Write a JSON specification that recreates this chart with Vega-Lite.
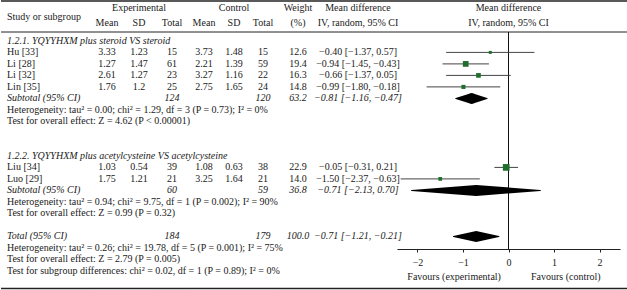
{
"$schema":"https://vega.github.io/schema/vega-lite/v6.json",
"padding":0,"spacing":0,"bounds":"flush","background":"white",
"config":{"view":{"stroke":null},"text":{"font":"Liberation Serif","fontSize":10,"color":"#1a1a1a"},"concat":{"spacing":0}},
"datasets":{
"one":[{}],
"headers":[
{"col":"study","r":-2.12,"text":"Study or subgroup"},
{"col":"esd","r":-2.86,"text":"Experimental"},
{"col":"em","r":-1.56,"text":"Mean"},{"col":"esd","r":-1.56,"text":"SD"},{"col":"et","r":-1.56,"text":"Total"},
{"col":"csd","r":-2.86,"text":"Control"},
{"col":"cm","r":-1.56,"text":"Mean"},{"col":"csd","r":-1.56,"text":"SD"},{"col":"ct","r":-1.56,"text":"Total"},
{"col":"w","r":-2.86,"text":"Weight"},{"col":"w","r":-1.56,"text":"(%)"},
{"col":"ci","r":-2.86,"text":"Mean difference"},{"col":"ci","r":-1.56,"text":"IV, random, 95% CI"},
{"col":"forest","r":-2.86,"text":"Mean difference"},{"col":"forest","r":-1.56,"text":"IV, random, 95% CI"}
],
"rows":[
{"r":0,"kind":"group","label":"1.2.1. YQYYHXM plus steroid VS steroid"},
{"r":1,"kind":"study","label":"Hu [33]","em":3.33,"esd":1.23,"et":15,"cm":3.73,"csd":1.48,"ct":15,"weight":12.6,"est":-0.40,"lo":-1.37,"hi":0.57,"ci":"−0.40 [−1.37, 0.57]"},
{"r":2,"kind":"study","label":"Li [28]","em":1.27,"esd":1.47,"et":61,"cm":2.21,"csd":1.39,"ct":59,"weight":19.4,"est":-0.94,"lo":-1.45,"hi":-0.43,"ci":"−0.94 [−1.45, −0.43]"},
{"r":3,"kind":"study","label":"Li [32]","em":2.61,"esd":1.27,"et":23,"cm":3.27,"csd":1.16,"ct":22,"weight":16.3,"est":-0.66,"lo":-1.37,"hi":0.05,"ci":"−0.66 [−1.37, 0.05]"},
{"r":4,"kind":"study","label":"Lin [35]","em":1.76,"esd":1.2,"et":25,"cm":2.75,"csd":1.65,"ct":24,"weight":14.8,"est":-0.99,"lo":-1.80,"hi":-0.18,"ci":"−0.99 [−1.80, −0.18]"},
{"r":5,"kind":"subtotal","label":"Subtotal (95% CI)","et":124,"ct":120,"weight":63.2,"est":-0.81,"lo":-1.16,"hi":-0.47,"ci":"−0.81 [−1.16, −0.47]"},
{"r":6,"kind":"note","label":"Heterogeneity: tau² = 0.00; chi² = 1.29, df = 3 (P = 0.73); I² = 0%"},
{"r":7,"kind":"note","label":"Test for overall effect: Z = 4.62 (P < 0.00001)"},
{"r":10,"kind":"group","label":"1.2.2. YQYYHXM plus acetylcysteine VS acetylcysteine"},
{"r":11,"kind":"study","label":"Liu [34]","em":1.03,"esd":0.54,"et":39,"cm":1.08,"csd":0.63,"ct":38,"weight":22.9,"est":-0.05,"lo":-0.31,"hi":0.21,"ci":"−0.05 [−0.31, 0.21]"},
{"r":12,"kind":"study","label":"Luo [29]","em":1.75,"esd":1.21,"et":21,"cm":3.25,"csd":1.64,"ct":21,"weight":14.0,"est":-1.50,"lo":-2.37,"hi":-0.63,"ci":"−1.50 [−2.37, −0.63]"},
{"r":13,"kind":"subtotal","label":"Subtotal (95% CI)","et":60,"ct":59,"weight":36.8,"est":-0.71,"lo":-2.13,"hi":0.70,"ci":"−0.71 [−2.13, 0.70]"},
{"r":14,"kind":"note","label":"Heterogeneity: tau² = 0.94; chi² = 9.75, df = 1 (P = 0.002); I² = 90%"},
{"r":15,"kind":"note","label":"Test for overall effect: Z = 0.99 (P = 0.32)"},
{"r":17,"kind":"total","label":"Total (95% CI)","et":184,"ct":179,"weight":100.0,"est":-0.71,"lo":-1.21,"hi":-0.21,"ci":"−0.71 [−1.21, −0.21]"},
{"r":18,"kind":"note","label":"Heterogeneity: tau² = 0.26; chi² = 19.78, df = 5 (P = 0.001); I² = 75%"},
{"r":19,"kind":"note","label":"Test for overall effect: Z = 2.79 (P = 0.005)"},
{"r":20,"kind":"note","label":"Test for subgroup differences: chi² = 0.02, df = 1 (P = 0.89); I² = 0%"}
]
},
"hconcat":[
{"width":12,"height":290,"layer":[
{"data":{"name":"one"},"mark":{"type":"rule","color":"#222","strokeWidth":1.5},"encoding":{"y":{"datum":-3.47,"type":"quantitative","scale":{"domain":[-3.557,21.661],"reverse":true,"nice":false,"zero":false},"axis":null}}},
{"data":{"name":"one"},"mark":{"type":"rule","color":"#222","strokeWidth":1},"encoding":{"y":{"datum":-0.774,"type":"quantitative","scale":{"domain":[-3.557,21.661],"reverse":true,"nice":false,"zero":false},"axis":null}}},
{"data":{"name":"one"},"mark":{"type":"rule","color":"#222","strokeWidth":1.5},"encoding":{"y":{"datum":21.53,"type":"quantitative","scale":{"domain":[-3.557,21.661],"reverse":true,"nice":false,"zero":false},"axis":null}}},
{"data":{"name":"headers"},"transform":[{"filter":"datum.col==='study'"}],"mark":{"type":"text","align":"left"},"encoding":{"y":{"field":"r","type":"quantitative","scale":{"domain":[-3.557,21.661],"reverse":true,"nice":false,"zero":false},"axis":null},"text":{"field":"text","type":"nominal"}}},
{"data":{"name":"rows"},"transform":[{"filter":"datum.kind==='study'||datum.kind==='note'"}],"mark":{"type":"text","align":"left"},"encoding":{"y":{"field":"r","type":"quantitative","scale":{"domain":[-3.557,21.661],"reverse":true,"nice":false,"zero":false},"axis":null},"text":{"field":"label","type":"nominal"}}},
{"data":{"name":"rows"},"transform":[{"filter":"datum.kind==='group'||datum.kind==='subtotal'||datum.kind==='total'"}],"mark":{"type":"text","align":"left","fontStyle":"italic"},"encoding":{"y":{"field":"r","type":"quantitative","scale":{"domain":[-3.557,21.661],"reverse":true,"nice":false,"zero":false},"axis":null},"text":{"field":"label","type":"nominal"}}}
]},
{"width":78,"height":290,"layer":[
{"data":{"name":"one"},"mark":{"type":"rule","color":"#222","strokeWidth":1.5},"encoding":{"y":{"datum":-3.47,"type":"quantitative","scale":{"domain":[-3.557,21.661],"reverse":true,"nice":false,"zero":false},"axis":null}}},
{"data":{"name":"one"},"mark":{"type":"rule","color":"#222","strokeWidth":1},"encoding":{"y":{"datum":-0.774,"type":"quantitative","scale":{"domain":[-3.557,21.661],"reverse":true,"nice":false,"zero":false},"axis":null}}},
{"data":{"name":"one"},"mark":{"type":"rule","color":"#222","strokeWidth":1.5},"encoding":{"y":{"datum":21.53,"type":"quantitative","scale":{"domain":[-3.557,21.661],"reverse":true,"nice":false,"zero":false},"axis":null}}}
]},
{"width":32,"height":290,"layer":[
{"data":{"name":"one"},"mark":{"type":"rule","color":"#222","strokeWidth":1.5},"encoding":{"y":{"datum":-3.47,"type":"quantitative","scale":{"domain":[-3.557,21.661],"reverse":true,"nice":false,"zero":false},"axis":null}}},
{"data":{"name":"one"},"mark":{"type":"rule","color":"#222","strokeWidth":1},"encoding":{"y":{"datum":-0.774,"type":"quantitative","scale":{"domain":[-3.557,21.661],"reverse":true,"nice":false,"zero":false},"axis":null}}},
{"data":{"name":"one"},"mark":{"type":"rule","color":"#222","strokeWidth":1.5},"encoding":{"y":{"datum":21.53,"type":"quantitative","scale":{"domain":[-3.557,21.661],"reverse":true,"nice":false,"zero":false},"axis":null}}},
{"data":{"name":"headers"},"transform":[{"filter":"datum.col==='em'"}],"mark":{"type":"text"},"encoding":{"y":{"field":"r","type":"quantitative","scale":{"domain":[-3.557,21.661],"reverse":true,"nice":false,"zero":false},"axis":null},"text":{"field":"text","type":"nominal"}}},
{"data":{"name":"rows"},"transform":[{"filter":"datum.kind==='study'"}],"mark":{"type":"text"},"encoding":{"y":{"field":"r","type":"quantitative","scale":{"domain":[-3.557,21.661],"reverse":true,"nice":false,"zero":false},"axis":null},"text":{"field":"em","type":"nominal"}}}
]},
{"width":32,"height":290,"layer":[
{"data":{"name":"one"},"mark":{"type":"rule","color":"#222","strokeWidth":1.5},"encoding":{"y":{"datum":-3.47,"type":"quantitative","scale":{"domain":[-3.557,21.661],"reverse":true,"nice":false,"zero":false},"axis":null}}},
{"data":{"name":"one"},"mark":{"type":"rule","color":"#222","strokeWidth":1},"encoding":{"y":{"datum":-0.774,"type":"quantitative","scale":{"domain":[-3.557,21.661],"reverse":true,"nice":false,"zero":false},"axis":null}}},
{"data":{"name":"one"},"mark":{"type":"rule","color":"#222","strokeWidth":1.5},"encoding":{"y":{"datum":21.53,"type":"quantitative","scale":{"domain":[-3.557,21.661],"reverse":true,"nice":false,"zero":false},"axis":null}}},
{"data":{"name":"headers"},"transform":[{"filter":"datum.col==='esd'"}],"mark":{"type":"text"},"encoding":{"y":{"field":"r","type":"quantitative","scale":{"domain":[-3.557,21.661],"reverse":true,"nice":false,"zero":false},"axis":null},"text":{"field":"text","type":"nominal"}}},
{"data":{"name":"rows"},"transform":[{"filter":"datum.kind==='study'"}],"mark":{"type":"text"},"encoding":{"y":{"field":"r","type":"quantitative","scale":{"domain":[-3.557,21.661],"reverse":true,"nice":false,"zero":false},"axis":null},"text":{"field":"esd","type":"nominal"}}}
]},
{"width":34,"height":290,"layer":[
{"data":{"name":"one"},"mark":{"type":"rule","color":"#222","strokeWidth":1.5},"encoding":{"y":{"datum":-3.47,"type":"quantitative","scale":{"domain":[-3.557,21.661],"reverse":true,"nice":false,"zero":false},"axis":null}}},
{"data":{"name":"one"},"mark":{"type":"rule","color":"#222","strokeWidth":1},"encoding":{"y":{"datum":-0.774,"type":"quantitative","scale":{"domain":[-3.557,21.661],"reverse":true,"nice":false,"zero":false},"axis":null}}},
{"data":{"name":"one"},"mark":{"type":"rule","color":"#222","strokeWidth":1.5},"encoding":{"y":{"datum":21.53,"type":"quantitative","scale":{"domain":[-3.557,21.661],"reverse":true,"nice":false,"zero":false},"axis":null}}},
{"data":{"name":"headers"},"transform":[{"filter":"datum.col==='et'"}],"mark":{"type":"text"},"encoding":{"y":{"field":"r","type":"quantitative","scale":{"domain":[-3.557,21.661],"reverse":true,"nice":false,"zero":false},"axis":null},"text":{"field":"text","type":"nominal"}}},
{"data":{"name":"rows"},"transform":[{"filter":"datum.kind==='study'"}],"mark":{"type":"text"},"encoding":{"y":{"field":"r","type":"quantitative","scale":{"domain":[-3.557,21.661],"reverse":true,"nice":false,"zero":false},"axis":null},"text":{"field":"et","type":"nominal"}}},
{"data":{"name":"rows"},"transform":[{"filter":"datum.kind==='subtotal'||datum.kind==='total'"}],"mark":{"type":"text","fontStyle":"italic"},"encoding":{"y":{"field":"r","type":"quantitative","scale":{"domain":[-3.557,21.661],"reverse":true,"nice":false,"zero":false},"axis":null},"text":{"field":"et","type":"nominal"}}}
]},
{"width":30,"height":290,"layer":[
{"data":{"name":"one"},"mark":{"type":"rule","color":"#222","strokeWidth":1.5},"encoding":{"y":{"datum":-3.47,"type":"quantitative","scale":{"domain":[-3.557,21.661],"reverse":true,"nice":false,"zero":false},"axis":null}}},
{"data":{"name":"one"},"mark":{"type":"rule","color":"#222","strokeWidth":1},"encoding":{"y":{"datum":-0.774,"type":"quantitative","scale":{"domain":[-3.557,21.661],"reverse":true,"nice":false,"zero":false},"axis":null}}},
{"data":{"name":"one"},"mark":{"type":"rule","color":"#222","strokeWidth":1.5},"encoding":{"y":{"datum":21.53,"type":"quantitative","scale":{"domain":[-3.557,21.661],"reverse":true,"nice":false,"zero":false},"axis":null}}},
{"data":{"name":"headers"},"transform":[{"filter":"datum.col==='cm'"}],"mark":{"type":"text"},"encoding":{"y":{"field":"r","type":"quantitative","scale":{"domain":[-3.557,21.661],"reverse":true,"nice":false,"zero":false},"axis":null},"text":{"field":"text","type":"nominal"}}},
{"data":{"name":"rows"},"transform":[{"filter":"datum.kind==='study'"}],"mark":{"type":"text"},"encoding":{"y":{"field":"r","type":"quantitative","scale":{"domain":[-3.557,21.661],"reverse":true,"nice":false,"zero":false},"axis":null},"text":{"field":"cm","type":"nominal"}}}
]},
{"width":30,"height":290,"layer":[
{"data":{"name":"one"},"mark":{"type":"rule","color":"#222","strokeWidth":1.5},"encoding":{"y":{"datum":-3.47,"type":"quantitative","scale":{"domain":[-3.557,21.661],"reverse":true,"nice":false,"zero":false},"axis":null}}},
{"data":{"name":"one"},"mark":{"type":"rule","color":"#222","strokeWidth":1},"encoding":{"y":{"datum":-0.774,"type":"quantitative","scale":{"domain":[-3.557,21.661],"reverse":true,"nice":false,"zero":false},"axis":null}}},
{"data":{"name":"one"},"mark":{"type":"rule","color":"#222","strokeWidth":1.5},"encoding":{"y":{"datum":21.53,"type":"quantitative","scale":{"domain":[-3.557,21.661],"reverse":true,"nice":false,"zero":false},"axis":null}}},
{"data":{"name":"headers"},"transform":[{"filter":"datum.col==='csd'"}],"mark":{"type":"text"},"encoding":{"y":{"field":"r","type":"quantitative","scale":{"domain":[-3.557,21.661],"reverse":true,"nice":false,"zero":false},"axis":null},"text":{"field":"text","type":"nominal"}}},
{"data":{"name":"rows"},"transform":[{"filter":"datum.kind==='study'"}],"mark":{"type":"text"},"encoding":{"y":{"field":"r","type":"quantitative","scale":{"domain":[-3.557,21.661],"reverse":true,"nice":false,"zero":false},"axis":null},"text":{"field":"csd","type":"nominal"}}}
]},
{"width":28,"height":290,"layer":[
{"data":{"name":"one"},"mark":{"type":"rule","color":"#222","strokeWidth":1.5},"encoding":{"y":{"datum":-3.47,"type":"quantitative","scale":{"domain":[-3.557,21.661],"reverse":true,"nice":false,"zero":false},"axis":null}}},
{"data":{"name":"one"},"mark":{"type":"rule","color":"#222","strokeWidth":1},"encoding":{"y":{"datum":-0.774,"type":"quantitative","scale":{"domain":[-3.557,21.661],"reverse":true,"nice":false,"zero":false},"axis":null}}},
{"data":{"name":"one"},"mark":{"type":"rule","color":"#222","strokeWidth":1.5},"encoding":{"y":{"datum":21.53,"type":"quantitative","scale":{"domain":[-3.557,21.661],"reverse":true,"nice":false,"zero":false},"axis":null}}},
{"data":{"name":"headers"},"transform":[{"filter":"datum.col==='ct'"}],"mark":{"type":"text"},"encoding":{"y":{"field":"r","type":"quantitative","scale":{"domain":[-3.557,21.661],"reverse":true,"nice":false,"zero":false},"axis":null},"text":{"field":"text","type":"nominal"}}},
{"data":{"name":"rows"},"transform":[{"filter":"datum.kind==='study'"}],"mark":{"type":"text"},"encoding":{"y":{"field":"r","type":"quantitative","scale":{"domain":[-3.557,21.661],"reverse":true,"nice":false,"zero":false},"axis":null},"text":{"field":"ct","type":"nominal"}}},
{"data":{"name":"rows"},"transform":[{"filter":"datum.kind==='subtotal'||datum.kind==='total'"}],"mark":{"type":"text","fontStyle":"italic"},"encoding":{"y":{"field":"r","type":"quantitative","scale":{"domain":[-3.557,21.661],"reverse":true,"nice":false,"zero":false},"axis":null},"text":{"field":"ct","type":"nominal"}}}
]},
{"width":42,"height":290,"layer":[
{"data":{"name":"one"},"mark":{"type":"rule","color":"#222","strokeWidth":1.5},"encoding":{"y":{"datum":-3.47,"type":"quantitative","scale":{"domain":[-3.557,21.661],"reverse":true,"nice":false,"zero":false},"axis":null}}},
{"data":{"name":"one"},"mark":{"type":"rule","color":"#222","strokeWidth":1},"encoding":{"y":{"datum":-0.774,"type":"quantitative","scale":{"domain":[-3.557,21.661],"reverse":true,"nice":false,"zero":false},"axis":null}}},
{"data":{"name":"one"},"mark":{"type":"rule","color":"#222","strokeWidth":1.5},"encoding":{"y":{"datum":21.53,"type":"quantitative","scale":{"domain":[-3.557,21.661],"reverse":true,"nice":false,"zero":false},"axis":null}}},
{"data":{"name":"headers"},"transform":[{"filter":"datum.col==='w'"}],"mark":{"type":"text"},"encoding":{"y":{"field":"r","type":"quantitative","scale":{"domain":[-3.557,21.661],"reverse":true,"nice":false,"zero":false},"axis":null},"text":{"field":"text","type":"nominal"}}},
{"data":{"name":"rows"},"transform":[{"filter":"datum.kind==='study'"}],"mark":{"type":"text"},"encoding":{"y":{"field":"r","type":"quantitative","scale":{"domain":[-3.557,21.661],"reverse":true,"nice":false,"zero":false},"axis":null},"text":{"field":"weight","type":"quantitative","format":".1f"}}},
{"data":{"name":"rows"},"transform":[{"filter":"datum.kind==='subtotal'||datum.kind==='total'"}],"mark":{"type":"text","fontStyle":"italic"},"encoding":{"y":{"field":"r","type":"quantitative","scale":{"domain":[-3.557,21.661],"reverse":true,"nice":false,"zero":false},"axis":null},"text":{"field":"weight","type":"quantitative","format":".1f"}}}
]},
{"width":78,"height":290,"layer":[
{"data":{"name":"one"},"mark":{"type":"rule","color":"#222","strokeWidth":1.5},"encoding":{"y":{"datum":-3.47,"type":"quantitative","scale":{"domain":[-3.557,21.661],"reverse":true,"nice":false,"zero":false},"axis":null}}},
{"data":{"name":"one"},"mark":{"type":"rule","color":"#222","strokeWidth":1},"encoding":{"y":{"datum":-0.774,"type":"quantitative","scale":{"domain":[-3.557,21.661],"reverse":true,"nice":false,"zero":false},"axis":null}}},
{"data":{"name":"one"},"mark":{"type":"rule","color":"#222","strokeWidth":1.5},"encoding":{"y":{"datum":21.53,"type":"quantitative","scale":{"domain":[-3.557,21.661],"reverse":true,"nice":false,"zero":false},"axis":null}}},
{"data":{"name":"headers"},"transform":[{"filter":"datum.col==='ci'"}],"mark":{"type":"text"},"encoding":{"y":{"field":"r","type":"quantitative","scale":{"domain":[-3.557,21.661],"reverse":true,"nice":false,"zero":false},"axis":null},"text":{"field":"text","type":"nominal"}}},
{"data":{"name":"rows"},"transform":[{"filter":"datum.kind==='study'"}],"mark":{"type":"text"},"encoding":{"y":{"field":"r","type":"quantitative","scale":{"domain":[-3.557,21.661],"reverse":true,"nice":false,"zero":false},"axis":null},"text":{"field":"ci","type":"nominal"}}},
{"data":{"name":"rows"},"transform":[{"filter":"datum.kind==='subtotal'||datum.kind==='total'"}],"mark":{"type":"text","fontStyle":"italic"},"encoding":{"y":{"field":"r","type":"quantitative","scale":{"domain":[-3.557,21.661],"reverse":true,"nice":false,"zero":false},"axis":null},"text":{"field":"ci","type":"nominal"}}}
]},
{"width":223,"height":290,"layer":[
{"data":{"name":"one"},"mark":{"type":"rule","color":"#222","strokeWidth":1.5},"encoding":{"y":{"datum":-3.47,"type":"quantitative","scale":{"domain":[-3.557,21.661],"reverse":true,"nice":false,"zero":false},"axis":null}}},
{"data":{"name":"one"},"mark":{"type":"rule","color":"#222","strokeWidth":1},"encoding":{"y":{"datum":-0.774,"type":"quantitative","scale":{"domain":[-3.557,21.661],"reverse":true,"nice":false,"zero":false},"axis":null}}},
{"data":{"name":"one"},"mark":{"type":"rule","color":"#222","strokeWidth":1.5},"encoding":{"y":{"datum":21.53,"type":"quantitative","scale":{"domain":[-3.557,21.661],"reverse":true,"nice":false,"zero":false},"axis":null}}},
{"data":{"name":"headers"},"transform":[{"filter":"datum.col==='forest'"}],"mark":{"type":"text"},"encoding":{"y":{"field":"r","type":"quantitative","scale":{"domain":[-3.557,21.661],"reverse":true,"nice":false,"zero":false},"axis":null},"text":{"field":"text","type":"nominal"}}},
{"data":{"name":"one"},"mark":{"type":"rule","color":"#111","strokeWidth":1},"encoding":{
 "x":{"datum":0,"type":"quantitative","scale":{"domain":[-2.45,2.45],"nice":false,"zero":false},"axis":{"values":[-2,-1,0,1,2],"offset":-41,"grid":false,"tickSize":3,"labelPadding":5,"domainColor":"#222","tickColor":"#222","labelColor":"#1a1a1a","labelFont":"Liberation Serif","labelFontSize":10,"title":"Favours (experimental)\u2003\u2003\u2003Favours (control)","titleFont":"Liberation Serif","titleFontSize":10,"titleFontWeight":"normal","titleColor":"#1a1a1a","titlePadding":4,"titleX":106.5}},
 "y":{"datum":-0.774,"type":"quantitative","scale":{"domain":[-3.557,21.661],"reverse":true,"nice":false,"zero":false},"axis":null},
 "y2":{"datum":18.1}}},
{"data":{"name":"rows"},"transform":[{"filter":"datum.kind==='study'"}],"mark":{"type":"rule","color":"#444","strokeWidth":1},"encoding":{
 "x":{"field":"lo","type":"quantitative","scale":{"domain":[-2.45,2.45],"nice":false,"zero":false},"axis":{"values":[-2,-1,0,1,2],"offset":-41,"grid":false,"tickSize":3,"labelPadding":5,"domainColor":"#222","tickColor":"#222","labelColor":"#1a1a1a","labelFont":"Liberation Serif","labelFontSize":10,"title":"Favours (experimental)\u2003\u2003\u2003Favours (control)","titleFont":"Liberation Serif","titleFontSize":10,"titleFontWeight":"normal","titleColor":"#1a1a1a","titlePadding":4,"titleX":106.5}},
 "x2":{"field":"hi"},
 "y":{"field":"r","type":"quantitative","scale":{"domain":[-3.557,21.661],"reverse":true,"nice":false,"zero":false},"axis":null}}},
{"data":{"name":"rows"},"transform":[{"filter":"datum.kind==='study'"}],"mark":{"type":"point","shape":"square","filled":true,"color":"#1f6e2b","opacity":1},"encoding":{
 "x":{"field":"est","type":"quantitative","scale":{"domain":[-2.45,2.45],"nice":false,"zero":false},"axis":{"values":[-2,-1,0,1,2],"offset":-41,"grid":false,"tickSize":3,"labelPadding":5,"domainColor":"#222","tickColor":"#222","labelColor":"#1a1a1a","labelFont":"Liberation Serif","labelFontSize":10,"title":"Favours (experimental)\u2003\u2003\u2003Favours (control)","titleFont":"Liberation Serif","titleFontSize":10,"titleFontWeight":"normal","titleColor":"#1a1a1a","titlePadding":4,"titleX":106.5}},
 "y":{"field":"r","type":"quantitative","scale":{"domain":[-3.557,21.661],"reverse":true,"nice":false,"zero":false},"axis":null},
 "size":{"field":"weight","type":"quantitative","scale":{"domain":[12.6,22.9],"range":[9,45],"zero":false},"legend":null}}},
{"data":{"name":"rows"},"transform":[{"filter":"datum.kind==='subtotal'||datum.kind==='total'"},{"fold":["lo","est","hi"],"as":["vertex","md"]}],"mark":{"type":"trail","color":"#000"},"encoding":{
 "x":{"field":"md","type":"quantitative","scale":{"domain":[-2.45,2.45],"nice":false,"zero":false},"axis":{"values":[-2,-1,0,1,2],"offset":-41,"grid":false,"tickSize":3,"labelPadding":5,"domainColor":"#222","tickColor":"#222","labelColor":"#1a1a1a","labelFont":"Liberation Serif","labelFontSize":10,"title":"Favours (experimental)\u2003\u2003\u2003Favours (control)","titleFont":"Liberation Serif","titleFontSize":10,"titleFontWeight":"normal","titleColor":"#1a1a1a","titlePadding":4,"titleX":106.5}},
 "y":{"field":"r","type":"quantitative","scale":{"domain":[-3.557,21.661],"reverse":true,"nice":false,"zero":false},"axis":null},
 "detail":{"field":"r","type":"nominal"},
 "order":{"field":"md","type":"quantitative"},
 "size":{"condition":{"test":"datum.vertex==='est'","value":11},"value":0}}}
]},
{"width":8,"height":290,"layer":[
{"data":{"name":"one"},"mark":{"type":"rule","color":"#222","strokeWidth":1.5},"encoding":{"y":{"datum":-3.47,"type":"quantitative","scale":{"domain":[-3.557,21.661],"reverse":true,"nice":false,"zero":false},"axis":null}}},
{"data":{"name":"one"},"mark":{"type":"rule","color":"#222","strokeWidth":1},"encoding":{"y":{"datum":-0.774,"type":"quantitative","scale":{"domain":[-3.557,21.661],"reverse":true,"nice":false,"zero":false},"axis":null}}},
{"data":{"name":"one"},"mark":{"type":"rule","color":"#222","strokeWidth":1.5},"encoding":{"y":{"datum":21.53,"type":"quantitative","scale":{"domain":[-3.557,21.661],"reverse":true,"nice":false,"zero":false},"axis":null}}}
]}
]
}
